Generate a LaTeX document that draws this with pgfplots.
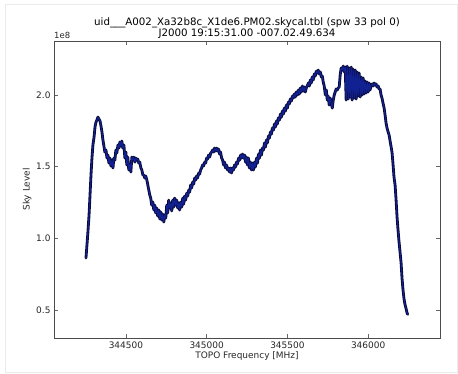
\documentclass[border=0pt]{standalone}
\usepackage{pgfplots}
\usepackage{pgfplotstable}
\pgfplotsset{compat=1.18}
\usepackage{fontspec}
\setmainfont{DejaVu Sans}
\definecolor{lineout}{RGB}{8,8,50}
\definecolor{linein}{RGB}{20,40,170}
\pgfplotstableread{
f y
344253 0.863
344259 0.953
344265 1.044
344272 1.163
344278 1.302
344284 1.442
344290 1.560
344296 1.651
344303 1.707
344309 1.777
344315 1.812
344321 1.826
344327 1.846
344333 1.833
344340 1.819
344346 1.784
344352 1.742
344358 1.686
344364 1.644
344370 1.602
344377 1.616
344383 1.560
344389 1.581
344395 1.525
344401 1.560
344407 1.505
344414 1.546
344420 1.491
344426 1.560
344432 1.546
344438 1.616
344444 1.595
344451 1.651
344457 1.630
344463 1.672
344469 1.644
344475 1.679
344481 1.630
344488 1.651
344494 1.560
344500 1.602
344506 1.512
344512 1.567
344518 1.477
344525 1.519
344531 1.463
344537 1.567
344543 1.546
344549 1.567
344556 1.532
344562 1.560
344568 1.546
344574 1.553
344580 1.525
344586 1.532
344593 1.491
344599 1.477
344605 1.442
344611 1.442
344617 1.421
344623 1.435
344630 1.407
344636 1.372
344642 1.337
344648 1.302
344654 1.281
344660 1.232
344667 1.253
344673 1.198
344679 1.232
344685 1.177
344691 1.212
344697 1.156
344704 1.198
344710 1.135
344716 1.184
344722 1.128
344728 1.170
344735 1.114
344741 1.163
344747 1.142
344753 1.232
344759 1.177
344765 1.267
344772 1.212
344778 1.246
344784 1.191
344790 1.267
344796 1.218
344802 1.281
344809 1.232
344815 1.267
344821 1.212
344827 1.246
344833 1.198
344839 1.253
344846 1.218
344852 1.281
344858 1.239
344864 1.295
344870 1.267
344877 1.316
344883 1.295
344889 1.337
344895 1.323
344901 1.372
344907 1.351
344914 1.393
344920 1.379
344926 1.421
344932 1.407
344938 1.435
344944 1.421
344951 1.456
344957 1.449
344963 1.477
344969 1.491
344975 1.512
344981 1.505
344988 1.532
344994 1.525
345000 1.560
345006 1.553
345012 1.581
345019 1.567
345025 1.595
345031 1.602
345037 1.616
345043 1.602
345049 1.630
345056 1.609
345062 1.630
345068 1.609
345074 1.623
345080 1.588
345086 1.602
345093 1.560
345099 1.546
345105 1.512
345111 1.532
345117 1.491
345123 1.512
345130 1.477
345136 1.491
345142 1.463
345148 1.491
345154 1.456
345160 1.491
345167 1.477
345173 1.512
345179 1.498
345185 1.532
345191 1.519
345198 1.560
345204 1.546
345210 1.581
345216 1.560
345222 1.588
345228 1.560
345235 1.581
345241 1.532
345247 1.567
345253 1.512
345259 1.560
345265 1.491
345272 1.532
345278 1.477
345284 1.525
345290 1.477
345296 1.532
345302 1.498
345309 1.560
345315 1.525
345321 1.588
345327 1.560
345333 1.616
345339 1.581
345346 1.630
345352 1.616
345358 1.665
345364 1.637
345370 1.686
345376 1.665
345383 1.714
345389 1.700
345395 1.742
345401 1.728
345407 1.770
345414 1.756
345420 1.798
345426 1.777
345432 1.819
345438 1.798
345444 1.840
345451 1.826
345457 1.867
345463 1.846
345469 1.888
345475 1.867
345481 1.909
345488 1.888
345494 1.930
345500 1.909
345506 1.951
345512 1.937
345518 1.972
345525 1.958
345531 1.993
345537 1.979
345543 2.007
345549 1.986
345555 2.021
345562 2.000
345568 2.035
345574 2.007
345580 2.049
345586 2.021
345593 2.063
345599 2.028
345605 2.056
345611 2.021
345617 2.049
345623 2.063
345630 2.084
345636 2.063
345642 2.105
345648 2.084
345654 2.126
345660 2.105
345667 2.147
345673 2.133
345679 2.167
345685 2.154
345691 2.174
345697 2.147
345704 2.161
345710 2.126
345716 2.133
345722 2.091
345728 2.063
345735 2.000
345741 2.035
345747 1.965
345753 1.993
345759 1.930
345765 1.979
345772 1.944
345778 1.909
345784 1.965
345790 2.000
345796 2.021
345802 2.042
345809 2.035
345815 2.049
345821 2.056
345827 2.140
345833 2.188
345839 2.174
345846 2.202
345852 2.161
345858 2.195
345864 1.965
345870 2.202
345877 1.972
345883 2.188
345889 1.986
345895 2.195
345901 1.965
345907 2.181
345914 1.979
345920 2.174
345926 1.972
345932 2.161
345938 1.993
345944 2.154
345951 1.986
345957 2.126
345963 2.000
345969 2.119
345975 2.007
345981 2.098
345988 2.014
345994 2.091
346000 2.021
346006 2.084
346012 2.035
346019 2.070
346025 2.077
346031 2.063
346037 2.084
346043 2.070
346049 2.077
346055 2.056
346062 2.063
346068 2.042
346074 2.042
346080 2.000
346086 1.979
346092 1.944
346099 1.909
346105 1.860
346111 1.805
346117 1.770
346123 1.745
346130 1.720
346136 1.680
346142 1.640
346148 1.600
346154 1.520
346160 1.430
346167 1.370
346173 1.270
346179 1.150
346185 1.060
346191 0.980
346198 0.900
346204 0.830
346210 0.720
346216 0.640
346222 0.580
346228 0.540
346235 0.510
346241 0.480
346245 0.470
}\skydata
\begin{document}
\begin{tikzpicture}
\begin{axis}[
  name=ax,
  scale only axis,
  width=386bp, height=297bp,
  xmin=344055, xmax=346445,
  ymin=0.305, ymax=2.377,
  xtick={344500,345000,345500,346000},
  ytick={0.5,1.0,1.5,2.0},
  scaled x ticks=false,
  xticklabel style={/pgf/number format/.cd, fixed, 1000 sep={}, assume math mode=true},
  yticklabel style={/pgf/number format/.cd, fixed, fixed zerofill, precision=1, assume math mode=true},
  tick label style={font=\fontsize{9}{10}\selectfont, text=black!85},
  label style={font=\fontsize{9}{10}\selectfont, text=black!85},
  tick align=inside,
  major tick length=4bp,
  tick style={black!60, line width=0.6bp},
  axis line style={black!70, line width=0.8bp},
  xlabel={TOPO Frequency [MHz]},
  ylabel={Sky Level},
  xlabel style={yshift=3bp},
  ylabel style={yshift=-2bp},
  clip=false,
]
\addplot[lineout, line width=2.8bp, line join=round, line cap=round] table[x=f,y=y] {\skydata};
\addplot[linein, line width=1.1bp, line join=round, line cap=round, opacity=0.8] table[x=f,y=y] {\skydata};
\end{axis}
\node[anchor=south, align=center, font=\fontsize{10.3}{11}\selectfont, inner sep=0pt] at ([yshift=2.5bp]ax.north) {uid\_\_\_A002\_Xa32b8c\_X1de6.PM02.skycal.tbl (spw 33 pol 0)\\J2000 19:15:31.00 -007.02.49.634};
\node[anchor=south west, font=\fontsize{8.5}{9}\selectfont, text=black!85, inner sep=0pt] at ([yshift=2bp]ax.north west) {1e8};
\pgfresetboundingbox
\path[use as bounding box] ([xshift=-54bp,yshift=-36bp]ax.south west) rectangle ([xshift=18bp,yshift=41bp]ax.north east);
\draw[black!8, line width=0.8bp] ([xshift=-49bp,yshift=-34bp]ax.south west) rectangle ([xshift=17bp,yshift=37bp]ax.north east);
\end{tikzpicture}
\end{document}
